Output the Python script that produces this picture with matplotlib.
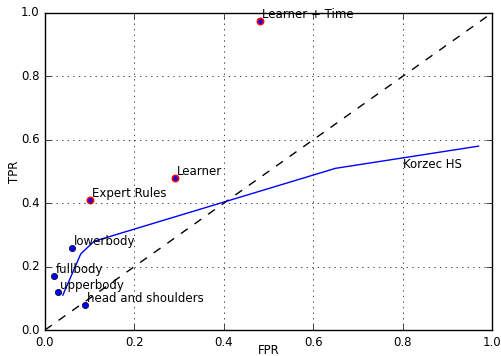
import matplotlib
matplotlib.use('Agg')
import matplotlib.pyplot as plt

plt.style.use('classic')
plt.rcParams['font.family'] = 'DejaVu Sans'
plt.rcParams['font.size'] = 8.5
plt.rcParams['figure.facecolor'] = 'white'

# detector results (FPR, TPR)
det_names = ['fullbody', 'upperbody', 'lowerbody', 'head and shoulders']
det_fpr = [0.02, 0.03, 0.06, 0.09]
det_tpr = [0.17, 0.12, 0.26, 0.08]

our_names = ['Expert Rules', 'Learner', 'Learner + Time']
our_fpr = [0.10, 0.29, 0.48]
our_tpr = [0.41, 0.48, 0.975]

# Korzec HS curve
korzec_fpr = [0.04, 0.08, 0.11, 0.65, 0.97]
korzec_tpr = [0.11, 0.24, 0.28, 0.51, 0.58]

fig = plt.figure(figsize=(5.02, 3.56), dpi=100)
ax = fig.add_axes([0.0896, 0.073, 0.8904, 0.8905])

ax.plot([0, 1], [0, 1], 'k--')
ax.plot(korzec_fpr, korzec_tpr, 'b-')
ax.text(0.8, 0.51, 'Korzec HS')

ax.plot(det_fpr, det_tpr, 'bo', markersize=4.5)
for name, x, y in zip(det_names, det_fpr, det_tpr):
    ax.annotate(name, (x, y), xytext=(1.5, 2), textcoords='offset points')

ax.plot(our_fpr, our_tpr, 'bo', markersize=4.5, markeredgecolor='r', markeredgewidth=1.2)
for name, x, y in zip(our_names, our_fpr, our_tpr):
    ax.annotate(name, (x, y), xytext=(1.5, 2), textcoords='offset points')

ax.set_xlim(0, 1)
ax.set_ylim(0, 1)
ax.set_xlabel('FPR')
ax.xaxis.set_label_coords(0.5, -0.045)
ax.set_ylabel('TPR', labelpad=0)
ax.grid(True)

fig.savefig('out.png', dpi=100)
